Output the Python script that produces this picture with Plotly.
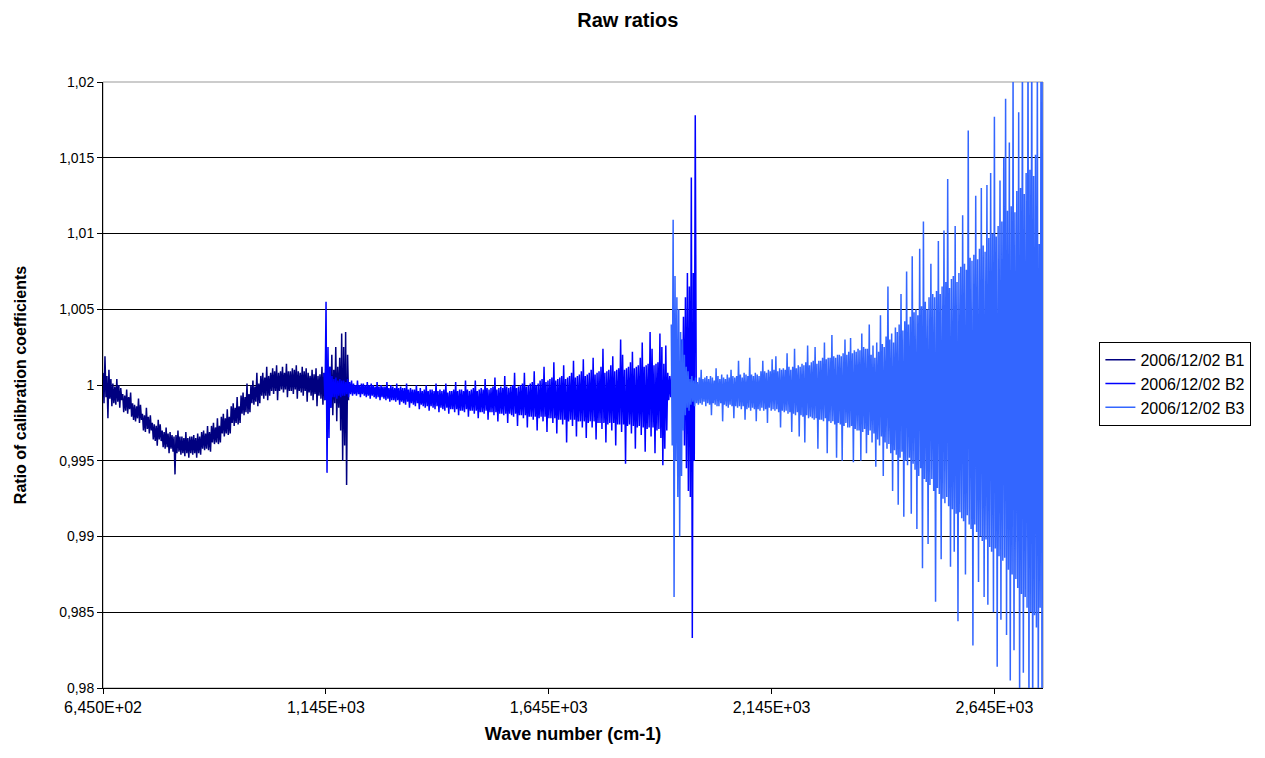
import numpy as np
import plotly.graph_objects as go

# ---- data ----
series_names = ["2006/12/02 B1", "2006/12/02 B2", "2006/12/02 B3"]
series_colors = ["#000080", "#0000FF", "#3366FF"]

b1_range = [645.0, 1196.0]
b1_values = [
    1.0008, 0.9988, 1.0019, 0.9992, 1.0006, 0.9978, 1.0010, 0.9991, 1.0004, 0.9986,
    1.0001, 0.9988, 0.9999, 0.9987, 1.0004, 0.9989, 1.0000, 0.9985, 0.9998, 0.9990,
    0.9994, 0.9982, 0.9993, 0.9983, 0.9997, 0.9981, 0.9992, 0.9984, 0.9995, 0.9979,
    0.9988, 0.9977, 0.9987, 0.9976, 0.9986, 0.9978, 0.9991, 0.9975, 0.9987, 0.9977,
    0.9981, 0.9970, 0.9980, 0.9969, 0.9985, 0.9971, 0.9979, 0.9968, 0.9980, 0.9970,
    0.9975, 0.9964, 0.9974, 0.9963, 0.9973, 0.9960, 0.9977, 0.9964, 0.9974, 0.9963,
    0.9970, 0.9959, 0.9969, 0.9958, 0.9972, 0.9959, 0.9968, 0.9955, 0.9969, 0.9958,
    0.9967, 0.9956, 0.9966, 0.9941, 0.9967, 0.9955, 0.9970, 0.9956, 0.9966, 0.9954,
    0.9966, 0.9955, 0.9965, 0.9953, 0.9969, 0.9955, 0.9965, 0.9952, 0.9966, 0.9955,
    0.9966, 0.9954, 0.9967, 0.9955, 0.9965, 0.9952, 0.9968, 0.9955, 0.9966, 0.9954,
    0.9969, 0.9958, 0.9970, 0.9957, 0.9968, 0.9958, 0.9973, 0.9957, 0.9969, 0.9956,
    0.9973, 0.9962, 0.9975, 0.9961, 0.9972, 0.9962, 0.9978, 0.9961, 0.9973, 0.9962,
    0.9979, 0.9968, 0.9981, 0.9966, 0.9978, 0.9968, 0.9984, 0.9967, 0.9979, 0.9968,
    0.9986, 0.9975, 0.9988, 0.9973, 0.9985, 0.9975, 0.9992, 0.9974, 0.9986, 0.9975,
    0.9993, 0.9981, 0.9995, 0.9980, 0.9992, 0.9982, 1.0001, 0.9981, 0.9994, 0.9982,
    1.0000, 0.9988, 1.0003, 0.9987, 0.9999, 0.9989, 1.0008, 0.9986, 1.0001, 0.9988,
    1.0006, 0.9993, 1.0008, 0.9991, 1.0005, 0.9993, 1.0012, 0.9990, 1.0006, 0.9993,
    1.0008, 0.9996, 1.0011, 0.9994, 1.0009, 0.9996, 1.0013, 0.9990, 1.0008, 0.9996,
    1.0009, 0.9997, 1.0012, 0.9995, 1.0008, 0.9997, 1.0014, 0.9992, 1.0009, 0.9996,
    1.0009, 0.9996, 1.0011, 0.9994, 1.0010, 0.9997, 1.0013, 0.9991, 1.0009, 0.9996,
    1.0008, 0.9995, 1.0012, 0.9993, 1.0009, 0.9996, 1.0011, 0.9989, 1.0008, 0.9995,
    1.0006, 0.9993, 1.0010, 0.9990, 1.0007, 0.9994, 1.0011, 0.9986, 1.0006, 0.9993,
    1.0007, 0.9991, 1.0012, 0.9987, 1.0008, 0.9990, 1.0015, 0.9984, 1.0007, 0.9991,
    1.0012, 0.9985, 1.0020, 0.9980, 1.0010, 0.9988, 1.0025, 0.9976, 1.0012, 0.9985,
    1.0018, 0.9970, 1.0034, 0.9950, 1.0025, 0.9960, 1.0035, 0.9934, 1.0020, 0.9990,
]

b2_range = [1141.0, 1976.0]
b2_values = [
    1.0008, 0.9990, 1.0055, 0.9942, 1.0025, 0.9965, 1.0012, 0.9985, 1.0006, 0.9992,
    1.0004, 0.9992, 1.0005, 0.9991, 1.0003, 0.9993, 1.0004, 0.9992, 1.0003, 0.9993,
    1.0003, 0.9993, 1.0002, 0.9994, 1.0004, 0.9992, 1.0002, 0.9994, 1.0003, 0.9993,
    1.0001, 0.9994, 1.0000, 0.9993, 1.0003, 0.9994, 1.0000, 0.9992, 1.0001, 0.9994,
    1.0001, 0.9993, 1.0000, 0.9992, 1.0002, 0.9993, 1.0000, 0.9991, 1.0001, 0.9993,
    1.0000, 0.9992, 0.9999, 0.9991, 1.0002, 0.9992, 0.9999, 0.9990, 1.0000, 0.9992,
    0.9999, 0.9991, 0.9999, 0.9990, 1.0002, 0.9991, 0.9998, 0.9989, 1.0000, 0.9990,
    0.9999, 0.9990, 0.9998, 0.9989, 1.0001, 0.9990, 0.9998, 0.9987, 0.9999, 0.9989,
    0.9998, 0.9988, 0.9998, 0.9987, 1.0001, 0.9989, 0.9997, 0.9985, 0.9998, 0.9988,
    0.9997, 0.9987, 0.9997, 0.9986, 1.0000, 0.9988, 0.9996, 0.9984, 0.9998, 0.9987,
    0.9996, 0.9986, 0.9997, 0.9985, 1.0000, 0.9986, 0.9996, 0.9983, 0.9997, 0.9986,
    0.9997, 0.9985, 0.9996, 0.9984, 1.0001, 0.9986, 0.9996, 0.9982, 0.9997, 0.9985,
    0.9996, 0.9984, 0.9997, 0.9983, 1.0001, 0.9985, 0.9995, 0.9981, 0.9996, 0.9984,
    0.9996, 0.9984, 0.9997, 0.9982, 1.0002, 0.9984, 0.9996, 0.9980, 0.9997, 0.9983,
    0.9997, 0.9983, 0.9996, 0.9982, 1.0003, 0.9984, 0.9997, 0.9979, 0.9996, 0.9983,
    0.9997, 0.9983, 0.9998, 0.9981, 1.0003, 0.9983, 0.9996, 0.9978, 0.9997, 0.9982,
    0.9998, 0.9982, 0.9997, 0.9981, 1.0004, 0.9983, 0.9998, 0.9977, 0.9997, 0.9982,
    0.9998, 0.9982, 0.9999, 0.9980, 1.0005, 0.9982, 0.9997, 0.9976, 0.9998, 0.9981,
    0.9999, 0.9981, 0.9998, 0.9980, 1.0006, 0.9981, 0.9999, 0.9975, 0.9998, 0.9981,
    0.9999, 0.9980, 1.0000, 0.9979, 1.0008, 0.9981, 0.9998, 0.9973, 0.9999, 0.9980,
    1.0000, 0.9980, 1.0001, 0.9978, 1.0008, 0.9980, 0.9999, 0.9972, 1.0000, 0.9979,
    1.0001, 0.9979, 1.0002, 0.9977, 1.0009, 0.9979, 1.0000, 0.9970, 1.0001, 0.9978,
    1.0003, 0.9979, 1.0004, 0.9976, 1.0012, 0.9979, 1.0002, 0.9969, 1.0003, 0.9978,
    1.0004, 0.9978, 1.0005, 0.9975, 1.0015, 0.9978, 1.0003, 0.9968, 1.0004, 0.9977,
    1.0005, 0.9977, 1.0006, 0.9974, 1.0013, 0.9977, 1.0004, 0.9962, 1.0005, 0.9976,
    1.0006, 0.9977, 1.0008, 0.9973, 1.0016, 0.9977, 1.0005, 0.9966, 1.0006, 0.9976,
    1.0007, 0.9976, 1.0009, 0.9972, 1.0017, 0.9976, 1.0006, 0.9965, 1.0007, 0.9975,
    1.0008, 0.9976, 1.0010, 0.9972, 1.0018, 0.9976, 1.0007, 0.9964, 1.0008, 0.9975,
    1.0009, 0.9975, 1.0012, 0.9971, 1.0024, 0.9975, 1.0008, 0.9962, 1.0009, 0.9974,
    1.0010, 0.9975, 1.0013, 0.9970, 1.0019, 0.9975, 1.0009, 0.9960, 1.0010, 0.9974,
    1.0011, 0.9974, 1.0030, 0.9969, 1.0020, 0.9974, 1.0010, 0.9948, 1.0011, 0.9973,
    1.0012, 0.9974, 1.0015, 0.9968, 1.0022, 0.9973, 1.0011, 0.9958, 1.0012, 0.9972,
    1.0013, 0.9973, 1.0018, 0.9967, 1.0028, 0.9972, 1.0012, 0.9956, 1.0013, 0.9971,
    1.0014, 0.9972, 1.0035, 0.9966, 1.0024, 0.9972, 1.0013, 0.9955, 1.0014, 0.9970,
    1.0015, 0.9971, 1.0034, 0.9965, 1.0025, 0.9947, 1.0014, 0.9958, 1.0026, 0.9970,
    1.0008, 0.9990, 1.0006, 0.9992, 1.0007, 0.9991, 1.0006, 0.9992, 1.0008, 0.9990,
    1.0007, 0.9991, 1.0008, 0.9990, 1.0030, 0.9975, 1.0045, 0.9960, 1.0058, 0.9945,
    1.0074, 0.9930, 1.0065, 0.9926, 1.0137, 0.9833, 1.0074, 0.9950, 1.0178, 0.9995,
]

b3_range = [1920.0, 2756.0]
b3_values = [
    1.0040, 0.9960, 1.0109, 0.9860, 1.0072, 0.9950, 1.0058, 0.9926, 1.0050, 0.9900,
    1.0035, 0.9940, 1.0030, 0.9970, 1.0020, 0.9980, 1.0012, 0.9985, 1.0009, 0.9983,
    1.0004, 0.9987, 1.0006, 0.9989, 1.0003, 0.9986, 1.0005, 0.9988, 1.0002, 0.9987,
    1.0005, 0.9988, 1.0010, 0.9987, 1.0004, 0.9989, 1.0005, 0.9986, 1.0006, 0.9988,
    1.0004, 0.9987, 1.0006, 0.9980, 1.0005, 0.9988, 1.0003, 0.9987, 1.0011, 0.9986,
    1.0006, 0.9986, 1.0004, 0.9988, 1.0007, 0.9976, 1.0005, 0.9987, 1.0004, 0.9986,
    1.0007, 0.9985, 1.0005, 0.9987, 1.0010, 0.9986, 1.0006, 0.9978, 1.0005, 0.9986,
    1.0006, 0.9985, 1.0016, 0.9986, 1.0007, 0.9984, 1.0005, 0.9986, 1.0008, 0.9977,
    1.0007, 0.9984, 1.0006, 0.9985, 1.0018, 0.9983, 1.0007, 0.9985, 1.0006, 0.9984,
    1.0008, 0.9976, 1.0007, 0.9984, 1.0006, 0.9983, 1.0009, 0.9985, 1.0016, 0.9983,
    1.0009, 0.9984, 1.0008, 0.9975, 1.0010, 0.9985, 1.0009, 0.9983, 1.0017, 0.9984,
    1.0010, 0.9983, 1.0019, 0.9984, 1.0009, 0.9982, 1.0011, 0.9972, 1.0010, 0.9983,
    1.0011, 0.9982, 1.0010, 0.9983, 1.0021, 0.9981, 1.0012, 0.9982, 1.0010, 0.9969,
    1.0012, 0.9981, 1.0024, 0.9980, 1.0011, 0.9982, 1.0013, 0.9966, 1.0012, 0.9980,
    1.0014, 0.9979, 1.0013, 0.9962, 1.0015, 0.9980, 1.0026, 0.9978, 1.0013, 0.9979,
    1.0015, 0.9978, 1.0016, 0.9977, 1.0025, 0.9978, 1.0014, 0.9958, 1.0016, 0.9977,
    1.0016, 0.9977, 1.0018, 0.9976, 1.0028, 0.9978, 1.0017, 0.9955, 1.0018, 0.9976,
    1.0018, 0.9975, 1.0033, 0.9976, 1.0019, 0.9974, 1.0018, 0.9952, 1.0020, 0.9975,
    1.0020, 0.9974, 1.0019, 0.9950, 1.0021, 0.9973, 1.0030, 0.9975, 1.0020, 0.9972,
    1.0022, 0.9972, 1.0031, 0.9973, 1.0021, 0.9949, 1.0023, 0.9971, 1.0022, 0.9970,
    1.0024, 0.9970, 1.0023, 0.9950, 1.0034, 0.9969, 1.0025, 0.9971, 1.0024, 0.9955,
    1.0024, 0.9967, 1.0040, 0.9970, 1.0020, 0.9962, 1.0026, 0.9968, 1.0018, 0.9946,
    1.0028, 0.9964, 1.0022, 0.9960, 1.0046, 0.9966, 1.0027, 0.9940, 1.0025, 0.9962,
    1.0032, 0.9958, 1.0065, 0.9961, 1.0030, 0.9955, 1.0034, 0.9930, 1.0028, 0.9957,
    1.0038, 0.9954, 1.0035, 0.9921, 1.0040, 0.9952, 1.0060, 0.9956, 1.0036, 0.9913,
    1.0042, 0.9950, 1.0075, 0.9947, 1.0040, 0.9952, 1.0045, 0.9915, 1.0085, 0.9948,
    1.0048, 0.9944, 1.0050, 0.9905, 1.0046, 0.9940, 1.0090, 0.9945, 1.0052, 0.9879,
    1.0108, 0.9938, 1.0055, 0.9936, 1.0050, 0.9895, 1.0058, 0.9934, 1.0080, 0.9938,
    1.0060, 0.9930, 1.0058, 0.9857, 1.0062, 0.9932, 1.0095, 0.9928, 1.0060, 0.9885,
    1.0065, 0.9925, 1.0102, 0.9922, 1.0068, 0.9926, 1.0136, 0.9920, 1.0064, 0.9880,
    1.0070, 0.9918, 1.0072, 0.9890, 1.0105, 0.9915, 1.0068, 0.9844, 1.0074, 0.9916,
    1.0078, 0.9912, 1.0112, 0.9910, 1.0080, 0.9875, 1.0076, 0.9914, 1.0168, 0.9908,
    1.0084, 0.9905, 1.0082, 0.9828, 1.0086, 0.9908, 1.0125, 0.9903, 1.0083, 0.9870,
    1.0090, 0.9900, 1.0130, 0.9897, 1.0092, 0.9860, 1.0088, 0.9898, 1.0132, 0.9855,
    1.0097, 0.9893, 1.0140, 0.9890, 1.0100, 0.9850, 1.0177, 0.9892, 1.0098, 0.9814,
    1.0105, 0.9887, 1.0135, 0.9845, 1.0108, 0.9884, 1.0150, 0.9886, 1.0189, 0.9835,
    1.0115, 0.9878, 1.0160, 0.9805, 1.0118, 0.9875, 1.0210, 0.9825, 1.0114, 0.9872,
    1.0128, 0.9866, 1.0180, 0.9790, 1.0130, 0.9862, 1.0230, 0.9810, 1.0126, 0.9860,
    1.0140, 0.9853, 1.0240, 0.9780, 1.0142, 0.9850, 1.0250, 0.9770, 1.0138, 0.9848,
    1.0152, 0.9840, 1.0220, 0.9775, 1.0093, 0.9853, 1.0260, 0.9760, 1.0230, 0.9790,
]

x_tick_values = [645, 1145, 1645, 2145, 2645]
x_tick_labels = ["6,450E+02", "1,145E+03", "1,645E+03", "2,145E+03", "2,645E+03"]
y_tick_values = [0.98, 0.985, 0.99, 0.995, 1.0, 1.005, 1.01, 1.015, 1.02]
y_tick_labels = ["0,98", "0,985", "0,99", "0,995", "1", "1,005", "1,01", "1,015", "1,02"]

x_axis_range = [645, 2754]
y_axis_range = [0.98, 1.02]

# ---- figure ----
FONT = "Liberation Sans, Arial, sans-serif"
fig = go.Figure()
for name, color, rng, vals in [
    (series_names[0], series_colors[0], b1_range, b1_values),
    (series_names[1], series_colors[1], b2_range, b2_values),
    (series_names[2], series_colors[2], b3_range, b3_values),
]:
    xs = np.linspace(rng[0], rng[1], len(vals))
    fig.add_trace(go.Scatter(x=xs, y=vals, mode="lines", name=name,
                             line=dict(color=color, width=1.5)))

fig.update_layout(
    width=1265, height=758,
    margin=dict(l=86, r=230, t=74, b=78),
    paper_bgcolor="white", plot_bgcolor="white",
    font=dict(family=FONT, size=14, color="black"),
    title=dict(text="<b>Raw ratios</b>", x=0.490, xanchor="center",
               y=0.984, yanchor="middle",
               font=dict(size=20, family=FONT, color="black")),
    showlegend=True,
    legend=dict(x=1.06, xanchor="left", y=0.502, yanchor="middle",
                bordercolor="black", borderwidth=1, bgcolor="white",
                font=dict(size=16, family=FONT, color="black"),
                itemwidth=30),
    xaxis=dict(range=x_axis_range, tickmode="array", tickvals=x_tick_values,
               ticktext=x_tick_labels, ticks="outside", ticklen=5, tickcolor="black",
               showgrid=False, zeroline=False, showline=True, linecolor="black",
               linewidth=1, tickfont=dict(size=16),
               title=dict(text="<b>Wave number (cm-1)</b>", font=dict(size=18), standoff=12)),
    yaxis=dict(range=y_axis_range, tickmode="array", tickvals=y_tick_values,
               ticktext=y_tick_labels, ticks="outside", ticklen=5, tickcolor="black",
               showgrid=True, gridcolor="black", gridwidth=1, zeroline=False,
               showline=True, linecolor="black", linewidth=1, tickfont=dict(size=14),
               title=dict(text="<b>Ratio of calibration coefficients</b>", font=dict(size=16),
                          standoff=28)),
)
fig.add_shape(type="rect", xref="paper", yref="paper", x0=0, x1=1, y0=0, y1=1,
              line=dict(color="#999999", width=1), layer="below")

fig.write_html("out.html")
